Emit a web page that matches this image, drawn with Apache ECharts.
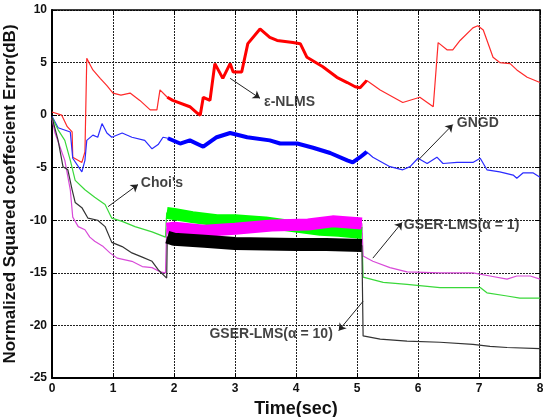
<!DOCTYPE html>
<html>
<head>
<meta charset="utf-8">
<script src="https://cdn.jsdelivr.net/npm/echarts@6/dist/echarts.min.js"></script>
<style>
  html, body { margin: 0; padding: 0; background: #fff; }
  #chart { width: 543px; height: 417px; }
</style>
</head>
<body>
<div id="chart"></div>
<script>
// [time (sec), error (dB)]
var nlmsData = [
  [0, 0.3], [0.16, 0.0], [0.25, -1.1], [0.33, -1.6], [0.34, -4.0], [0.49, -4.5], [0.54, -3.5],
  [0.57, 5.4], [0.67, 4.3], [0.79, 3.5], [0.82, 3.6], [0.9, 2.8], [1.0, 2.1], [1.13, 1.9],
  [1.28, 2.1], [1.44, 1.4], [1.61, 0.5], [1.72, 0.5], [1.77, 2.4], [1.89, 1.7],
  [1.98, 1.4], [2.26, 0.8], [2.38, 0.2], [2.43, 0.0], [2.48, 1.7], [2.59, 1.4], [2.67, 4.9],
  [2.8, 3.5], [2.92, 4.9], [2.97, 4.1], [3.11, 4.1], [3.21, 6.8], [3.41, 8.2], [3.57, 7.4],
  [3.69, 7.1], [3.95, 6.9], [4.07, 6.8], [4.18, 5.5], [4.44, 4.6], [4.67, 3.6], [4.84, 3.1],
  [4.97, 2.7], [5.05, 2.6],
  [5.16, 3.3], [5.38, 2.4], [5.75, 1.2], [6.03, 1.7], [6.25, 0.8], [6.33, 6.9], [6.48, 6.2],
  [6.57, 6.2], [6.69, 7.1], [6.9, 8.3], [6.98, 8.5], [7.07, 8.1], [7.23, 5.5], [7.34, 5.0],
  [7.51, 4.9], [7.62, 4.3], [7.79, 3.6], [8.0, 3.1]
];
var gngdData = [
  [0, -0.1], [0.1, -1.2], [0.3, -1.6], [0.33, -1.7], [0.34, -4.1], [0.49, -5.4], [0.54, -4.3],
  [0.57, -2.4], [0.67, -1.9], [0.75, -2.1], [0.82, -0.8], [0.9, -1.7], [0.98, -2.1], [1.15, -1.7],
  [1.31, -2.1], [1.52, -2.4], [1.64, -3.2], [1.74, -2.8], [1.82, -2.1], [1.9, -2.2],
  [2.1, -2.7], [2.26, -2.4], [2.48, -3.0], [2.7, -2.1], [2.92, -1.7], [3.2, -2.1], [3.57, -2.4],
  [3.74, -2.7], [4.02, -2.7], [4.28, -3.1], [4.56, -3.6], [4.84, -4.3], [4.93, -4.5], [5.05, -4.0],
  [5.16, -3.5], [5.26, -4.0], [5.54, -4.9], [5.75, -5.2], [5.87, -4.9], [6.0, -4.1], [6.15, -4.6],
  [6.31, -4.0], [6.41, -4.6], [6.64, -4.5], [6.9, -4.5], [7.02, -4.1], [7.13, -5.2], [7.34, -5.4],
  [7.56, -5.7], [7.62, -6.0], [7.72, -5.5], [7.89, -5.5], [8.0, -5.9]
];
var choiData = [
  [0, -0.2], [0.1, -1.4], [0.21, -2.4], [0.3, -4.3], [0.38, -6.2], [0.54, -7.1], [0.7, -7.8],
  [0.87, -8.5], [0.98, -9.8], [1.15, -10.1], [1.36, -10.6], [1.64, -11.1], [1.86, -11.6],
  [1.88, -9.3], [2.0, -9.4], [2.3, -9.7], [2.7, -10.0], [3.0, -10.0], [3.5, -10.2], [4.0, -10.6],
  [4.4, -10.9], [4.7, -11.0], [5.08, -11.2],
  [5.1, -15.4], [5.43, -15.9], [5.82, -16.1], [6.36, -16.4], [7.02, -16.4], [7.13, -16.9],
  [7.46, -17.2], [7.67, -17.4], [8.0, -17.4]
];
var gser1Data = [
  [0, -0.3], [0.05, -1.7], [0.13, -3.0], [0.21, -4.3], [0.3, -7.1], [0.34, -9.7], [0.43, -10.6],
  [0.54, -10.9], [0.62, -11.6], [0.7, -12.0], [0.84, -12.5], [0.95, -13.1], [1.07, -13.6],
  [1.31, -13.9], [1.48, -14.4], [1.64, -14.5], [1.77, -14.9], [1.86, -15.0],
  [1.88, -10.8], [2.0, -10.7], [2.5, -11.0], [3.0, -10.8], [3.6, -10.5], [4.2, -10.4],
  [4.6, -10.1], [5.08, -10.3],
  [5.1, -13.4], [5.26, -13.9], [5.54, -14.5], [5.82, -14.9], [6.36, -15.0], [6.9, -15.0],
  [7.18, -15.3], [7.46, -15.6], [7.62, -15.3], [7.84, -15.3], [8.0, -15.6]
];
var gser10Data = [
  [0, -0.2], [0.1, -2.4], [0.18, -4.9], [0.26, -5.2], [0.33, -7.1], [0.38, -8.3], [0.49, -8.8],
  [0.59, -9.8], [0.75, -10.0], [0.87, -10.6], [0.98, -12.1], [1.15, -12.5], [1.31, -13.1],
  [1.48, -13.5], [1.64, -13.9], [1.74, -14.7], [1.88, -15.5],
  [1.89, -11.6], [2.0, -11.8], [2.5, -12.0], [3.0, -12.2], [4.0, -12.3], [4.5, -12.3], [5.08, -12.4],
  [5.1, -21.0], [5.38, -21.3], [5.82, -21.5], [6.36, -21.6], [6.9, -21.8], [7.18, -22.0],
  [7.46, -22.1], [8.0, -22.2]
];
// noisy stretch of each curve, drawn as a thick band
var bandStart = 1.88, bandEnd = 5.08;

// annotation arrows: [from point on curve, to text]
var labelNames = ['\u03b5-NLMS', 'GNGD', "Choi's", 'GSER-LMS(\u03b1 = 1)', 'GSER-LMS(\u03b1 = 10)'];
var arrowFrom = [[2.92, 3.5], [6.0, -4.3], [0.92, -8.7], [5.26, -13.6], [5.1, -17.7]];
var arrowTo = [[3.41, 1.6], [6.57, -0.9], [1.41, -6.6], [5.74, -10.2], [4.7, -20.5]];
var labelAt = [[3.46, 1.2], [6.62, -0.75], [1.44, -6.45], [5.75, -10.45], [4.62, -20.85]];
var labelSide = ['right', 'right', 'right', 'right', 'left'];

function band(arr) {
  return arr.filter(function (p) { return p[0] >= bandStart - 0.02 && p[0] <= bandEnd + 0.09; });
}

var fontFam = '"Liberation Sans", Arial, sans-serif';

function curve(name, data, color, width, z) {
  return {
    name: name, type: 'line', data: data, symbol: 'none', z: z,
    lineStyle: { color: color, width: width }, silent: true
  };
}

var chart = echarts.init(document.getElementById('chart'));
chart.setOption({
  animation: false,
  backgroundColor: '#fff',
  grid: { left: 52, right: 3, top: 10, bottom: 39, containLabel: false, outerBoundsMode: 'none' },
  xAxis: [{
    type: 'value', min: 0, max: 8, interval: 1,
    name: 'Time(sec)', nameLocation: 'middle', nameGap: 14,
    nameTextStyle: { fontFamily: fontFam, fontWeight: 'bold', fontSize: 18, color: '#111' },
    axisLine: { show: true, onZero: false, lineStyle: { color: '#000', width: 2 } },
    axisTick: { show: true, inside: true, length: 5, lineStyle: { color: '#000' } },
    axisLabel: { margin: 5, fontFamily: fontFam, fontWeight: 'bold', fontSize: 12, color: '#111' },
    splitLine: { show: true, lineStyle: { color: '#222', type: [2, 1], width: 1 } }
  }, {
    type: 'value', position: 'top', min: 0, max: 8, interval: 1,
    axisLine: { show: true, onZero: false, lineStyle: { color: '#000', width: 1.5 } },
    axisTick: { show: true, inside: true, length: 5, lineStyle: { color: '#000' } },
    axisLabel: { show: false }, splitLine: { show: false }
  }],
  yAxis: [{
    type: 'value', min: -25, max: 10, interval: 5,
    name: 'Normalized Squared coeffecient Error(dB)', nameLocation: 'middle', nameGap: 24,
    nameTextStyle: { fontFamily: fontFam, fontWeight: 'bold', fontSize: 17, color: '#111' },
    axisLine: { show: true, onZero: false, lineStyle: { color: '#000', width: 2 } },
    axisTick: { show: true, inside: true, length: 5, lineStyle: { color: '#000' } },
    axisLabel: { margin: 5, fontFamily: fontFam, fontWeight: 'bold', fontSize: 12, color: '#111' },
    splitLine: { show: true, lineStyle: { color: '#222', type: [2, 1], width: 1 } }
  }, {
    type: 'value', position: 'right', min: -25, max: 10, interval: 5,
    axisLine: { show: true, onZero: false, lineStyle: { color: '#000', width: 1.5 } },
    axisTick: { show: true, inside: true, length: 5, lineStyle: { color: '#000' } },
    axisLabel: { show: false }, splitLine: { show: false }
  }],
  series: [
    curve('e-NLMS', nlmsData, '#ff2a2a', 1.2, 3),
    curve('e-NLMS band', band(nlmsData), '#ff0000', 3, 3),
    curve('GNGD', gngdData, '#2a2aff', 1.2, 3),
    curve('GNGD band', band(gngdData), '#0000ff', 4, 3),
    curve("Choi's", choiData, '#3ad83a', 1.2, 3),
    curve('GSER-LMS(a=1)', gser1Data, '#d84ad8', 1.2, 3),
    curve('GSER-LMS(a=10)', gser10Data, '#333333', 1.2, 3),
    curve("Choi's band", band(choiData).slice(1, -1), '#00ff00', 12, 4),
    curve('GSER-LMS(a=1) band', band(gser1Data).slice(1, -1), '#ff00ff', 12, 5),
    curve('GSER-LMS(a=10) band', band(gser10Data).slice(1, -1), '#000000', 13, 6),
    {
      name: 'labels', type: 'scatter', symbolSize: 0, z: 10, silent: true,
      data: labelAt.map(function (p, i) {
        return {
          value: p, name: labelNames[i],
          label: { show: true, position: labelSide[i], distance: 1, formatter: '{b}' }
        };
      }),
      label: { fontFamily: fontFam, fontWeight: 'bold', fontSize: 14, color: '#111' },
      markLine: {
        silent: true, symbol: ['none', 'arrow'], symbolSize: 7,
        label: { show: false },
        lineStyle: { color: '#222', width: 1, type: 'solid' },
        data: arrowFrom.map(function (p, i) {
          return [{ coord: p }, { coord: arrowTo[i] }];
        })
      }
    }
  ]
});
</script>
</body>
</html>
